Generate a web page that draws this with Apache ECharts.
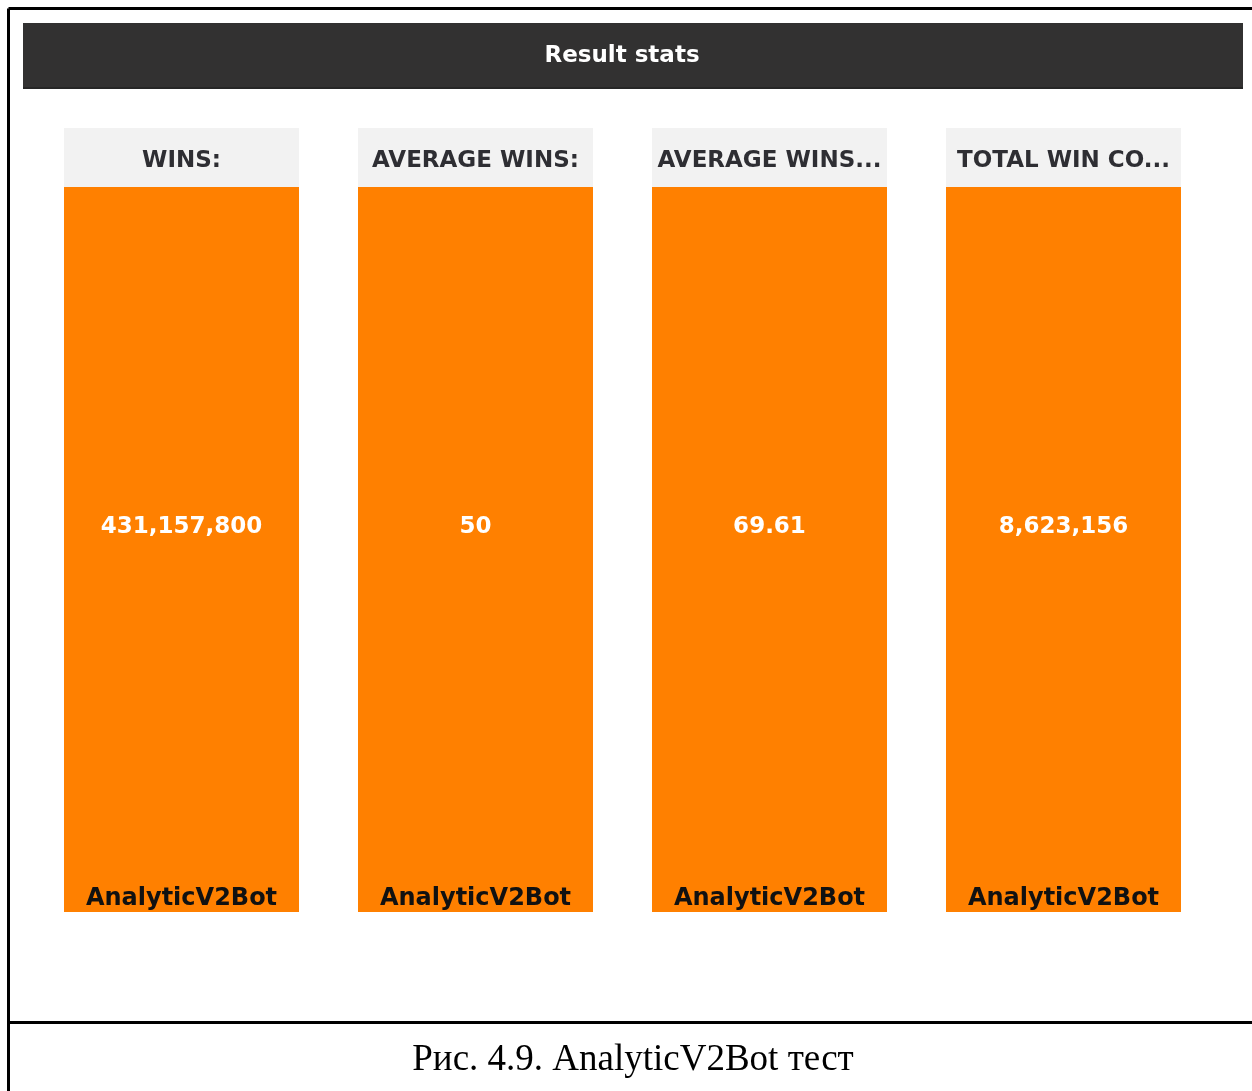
<!DOCTYPE html>
<html>
<head>
<meta charset="utf-8">
<title>Result stats</title>
<script src="https://cdn.jsdelivr.net/npm/echarts@6/dist/echarts.min.js"></script>
<style>
  html, body { margin: 0; padding: 0; background: #ffffff; }
  #chart { width: 1252px; height: 1091px; }
</style>
</head>
<body>
<div id="chart"></div>
<script>
// Stat panels: header text, the bot they belong to, and the value of each stat
const statNames = ['WINS:', 'AVERAGE WINS:', 'AVERAGE WINS...', 'TOTAL WIN CO...'];
const botNames = ['AnalyticV2Bot'];
const statValues = [431157800, 50, 69.61, 8623156];
const chartTitle = 'Result stats';
const caption = 'Рис. 4.9. AnalyticV2Bot тест';

const UI_FONT = '"DejaVu Sans", sans-serif';
const ORANGE = '#ff8000';

// panel geometry
const panelLeft = 64, panelStep = 294, panelWidth = 235;
const headTop = 128, headHeight = 59;
const barTop = headTop + headHeight, barBottom = 912;

function fmt(v) {
  return Number.isInteger(v) ? v.toLocaleString('en-US') : String(v);
}

const grids = [], xAxes = [], yAxes = [], series = [], graphics = [];

// page frame and caption
graphics.push(
  { type: 'line', shape: { x1: 8.5, y1: 8.5, x2: 1252, y2: 8.5 }, style: { stroke: '#000', lineWidth: 3 } },
  { type: 'line', shape: { x1: 8.5, y1: 8.5, x2: 8.5, y2: 1091 }, style: { stroke: '#000', lineWidth: 3 } },
  { type: 'line', shape: { x1: 8.5, y1: 1022.5, x2: 1252, y2: 1022.5 }, style: { stroke: '#000', lineWidth: 3 } },
  { type: 'text', x: 633, y: 1060, style: { text: caption, fill: '#000', font: '37px "Liberation Serif", "Times New Roman", serif', textAlign: 'center', textVerticalAlign: 'middle' } },
  // dark title bar
  { type: 'rect', shape: { x: 23, y: 23, width: 1220, height: 66 }, style: { fill: '#323131' } },
  { type: 'rect', shape: { x: 23, y: 87, width: 1220, height: 2 }, style: { fill: '#262626' } },
  { type: 'text', x: 622, y: 56, style: { text: chartTitle, fill: '#ffffff', font: 'bold 23px ' + UI_FONT, textAlign: 'center', textVerticalAlign: 'middle' } }
);

statNames.forEach((name, i) => {
  const left = panelLeft + panelStep * i;

  // grey header cell above each bar
  graphics.push(
    { type: 'rect', shape: { x: left, y: headTop, width: panelWidth, height: headHeight }, style: { fill: '#f2f2f2' } },
    { type: 'text', x: left + panelWidth / 2, y: headTop + 33, style: { text: name, fill: '#2e2e33', font: 'bold 23px ' + UI_FONT, textAlign: 'center', textVerticalAlign: 'middle' } }
  );

  grids.push({ left: left, top: barTop, width: panelWidth, height: barBottom - barTop, containLabel: false });

  xAxes.push({
    type: 'category',
    gridIndex: i,
    data: botNames,
    z: 10,
    axisLine: { show: false },
    axisTick: { show: false },
    axisLabel: {
      inside: true,
      margin: 1,
      color: '#111111',
      fontFamily: UI_FONT,
      fontWeight: 'bold',
      fontSize: 24
    }
  });

  yAxes.push({
    type: 'value',
    gridIndex: i,
    min: 0,
    max: statValues[i],
    show: false,
    splitLine: { show: false }
  });

  series.push({
    type: 'bar',
    xAxisIndex: i,
    yAxisIndex: i,
    data: [statValues[i]],
    barWidth: '100%',
    itemStyle: { color: ORANGE },
    label: {
      show: true,
      position: ['50%', '46.9%'],
      align: 'center',
      verticalAlign: 'middle',
      formatter: p => fmt(p.value),
      color: '#ffffff',
      fontFamily: UI_FONT,
      fontWeight: 'bold',
      fontSize: 23
    },
    emphasis: { disabled: true },
    animation: false
  });
});

const chart = echarts.init(document.getElementById('chart'), null, { renderer: 'canvas' });
chart.setOption({
  backgroundColor: '#ffffff',
  animation: false,
  grid: grids,
  xAxis: xAxes,
  yAxis: yAxes,
  series: series,
  graphic: { elements: graphics }
});
</script>
</body>
</html>
